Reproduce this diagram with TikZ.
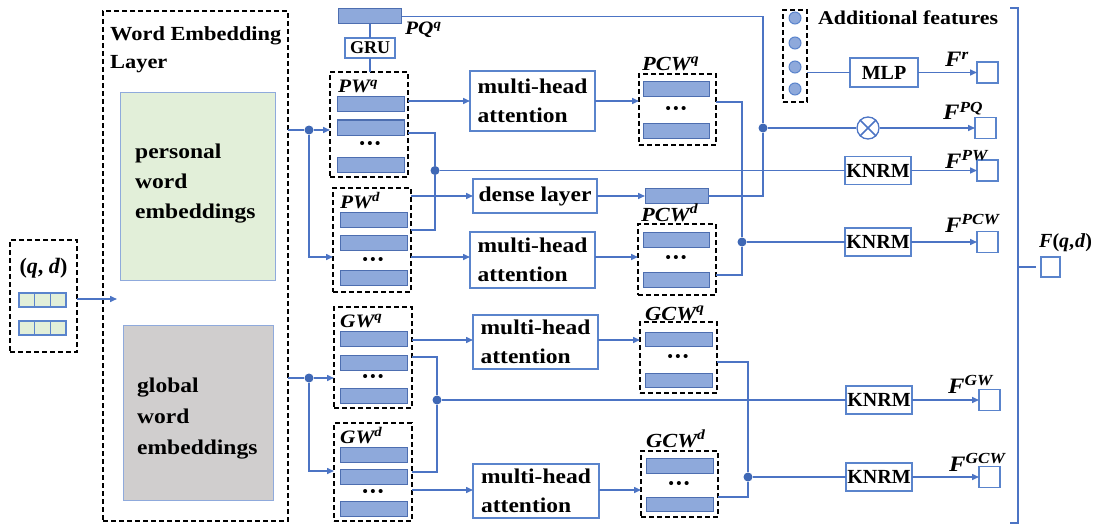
\documentclass[tikz,border=0pt]{standalone}
\usepackage{fontspec}
\setmainfont{Liberation Serif}[FakeStretch=1.12]
\newfontfamily\plainfont{Liberation Serif}
\usetikzlibrary{arrows.meta}
\definecolor{lnc}{HTML}{4C74C4}
\definecolor{barf}{HTML}{8EA9DB}
\definecolor{bard}{HTML}{4D6EB0}
\definecolor{gfill}{HTML}{E2EFD9}
\definecolor{grfill}{HTML}{D0CECE}
\definecolor{embd}{HTML}{8FAADC}
\definecolor{opd}{HTML}{5A84CC}
\definecolor{dotc}{HTML}{3F68B5}
\newcommand{\supl}[2]{\textbf{\textit{#1\textsuperscript{#2}}}}
\newcommand{\tridots}{\textbullet\kern2.5pt\textbullet\kern2.5pt\textbullet}
\tikzset{
 ln/.style={draw=lnc, line width=1.5pt},
 arr/.style={ln, -{Triangle[length=7pt,width=6pt]}},
 dbox/.style={draw=black, line width=1.5pt, dash pattern=on 5pt off 3pt, inner sep=0, outer sep=0, anchor=north west},
 wbar/.style={draw=bard, fill=barf, line width=1pt, inner sep=0, outer sep=0, anchor=north west, minimum width=67pt, minimum height=15pt},
 cell/.style={draw=opd, fill=gfill, line width=1.2pt, inner sep=0, outer sep=0, anchor=north west, minimum width=15.67pt, minimum height=14pt},
 opbox/.style={draw=opd, line width=1.6pt, fill=white, inner sep=2pt, outer sep=0, anchor=north west, align=left, font=\fontsize{21}{29}\selectfont\bfseries},
 knrm/.style={draw=opd, line width=1.6pt, fill=white, inner sep=0, outer sep=0, anchor=north west, minimum width=66pt, minimum height=28pt, font=\plainfont\fontsize{20}{22}\selectfont\bfseries},
 outsq/.style={draw=opd, line width=1.4pt, fill=white, inner sep=0, outer sep=0, anchor=north west, minimum width=21pt, minimum height=21pt},
 jdot/.style={circle, fill=dotc, inner sep=0, minimum size=9pt},
 lbl/.style={inner sep=0, anchor=base west, font=\fontsize{19}{21}\selectfont},
 flbl/.style={inner sep=0, anchor=base west, font=\fontsize{22}{24}\selectfont},
 ellip/.style={inner sep=0, font=\plainfont\fontsize{15}{15}\selectfont\bfseries},
 afc/.style={circle, draw=opd, fill=barf, line width=1pt, inner sep=0, minimum size=12pt},
 txt/.style={inner sep=0, anchor=north west, align=left},
}
\begin{document}
\begin{tikzpicture}[x=1pt,y=-1pt]
\useasboundingbox (0,0) rectangle (1099,524);

% (q,d) input
\node[dbox, minimum width=67pt, minimum height=112pt] (qd) at (10,240) {};
\node[inner sep=0, anchor=base, font=\plainfont\fontsize{22}{24}\selectfont\bfseries] (qdt) at (43.5,273) {(\textit{q}, \textit{d})};
\foreach \i in {0,1,2}{
  \node[cell] (qa\i) at ({19+\i*15.67},293) {};
  \node[cell] (qb\i) at ({19+\i*15.67},321) {};
}
\coordinate (wein) at (117,299);

% word embedding layer
\node[dbox, minimum width=185pt, minimum height=510pt] (web) at (103,11) {};
\node[txt, font=\fontsize{20}{28}\selectfont\bfseries] (webt) at (110,26) {Word Embedding\\Layer};
\node[draw=embd, fill=gfill, line width=1.3pt, anchor=north west, minimum width=155pt, minimum height=188pt, inner sep=0] (pwe) at (120,92) {};
\node[txt, font=\fontsize{21}{30}\selectfont\bfseries] (pwet) at (135,144) {personal\\word\\embeddings};
\node[draw=embd, fill=grfill, line width=1.3pt, anchor=north west, minimum width=150pt, minimum height=175pt, inner sep=0] (gwe) at (123,325) {};
\node[txt, font=\fontsize{21}{31}\selectfont\bfseries] (gwet) at (137,378) {global\\word\\embeddings};

% junctions
\node[jdot] (pj) at (309,130) {};
\node[jdot] (gj) at (309,378) {};
\node[jdot] (j1) at (763,128) {};
\node[jdot] (j2) at (435,170.5) {};
\node[jdot] (j3) at (742,242) {};
\node[jdot] (j4) at (437,400) {};
\node[jdot] (j5) at (748,477) {};

% PQ and GRU
\node[wbar, minimum width=63pt] (pqq) at (338.5,9) {};
\node[lbl] (pqql) at (405,35) {\supl{PQ}{q}};
\node[knrm, minimum width=50pt, minimum height=20pt, font=\plainfont\fontsize{18}{20}\selectfont\bfseries] (gru) at (345,38) {GRU};

% PW^q
\node[dbox, minimum width=78pt, minimum height=105pt] (pwq) at (330,72) {};
\node[lbl] (pwql) at (338,93) {\supl{PW}{q}};
\node[wbar] (pwq1) at (337,97) {};
\node[wbar] (pwq2) at (337,120) {};
\node[ellip] (pwqe) at (370,145) {\tridots};
\node[wbar] (pwq3) at (337,157) {};

% PW^d
\node[dbox, minimum width=78pt, minimum height=104pt] (pwd) at (333,188) {};
\node[lbl] (pwdl) at (340,208) {\supl{PW}{d}};
\node[wbar] (pwd1) at (340,212) {};
\node[wbar] (pwd2) at (340,235) {};
\node[ellip] (pwde) at (373,261) {\tridots};
\node[wbar] (pwd3) at (340,270) {};

% GW^q
\node[dbox, minimum width=78pt, minimum height=101pt] (gwq) at (334,307) {};
\node[lbl] (gwql) at (340,327) {\supl{GW}{q}};
\node[wbar] (gwq1) at (340,331) {};
\node[wbar] (gwq2) at (340,355) {};
\node[ellip] (gwqe) at (373,378) {\tridots};
\node[wbar] (gwq3) at (340,388) {};

% GW^d
\node[dbox, minimum width=78pt, minimum height=98pt] (gwd) at (334,423) {};
\node[lbl] (gwdl) at (340,443) {\supl{GW}{d}};
\node[wbar] (gwd1) at (340,447) {};
\node[wbar] (gwd2) at (340,469) {};
\node[ellip] (gwde) at (373,493) {\tridots};
\node[wbar] (gwd3) at (340,501) {};

% operation boxes
\node[opbox, minimum width=125pt, minimum height=60pt] (mha1) at (470,71) {multi-head\\attention};
\node[opbox, minimum width=124pt, minimum height=34pt] (dense) at (473,179) {dense layer};
\node[opbox, minimum width=125pt, minimum height=56pt] (mha2) at (470,232) {multi-head\\attention};
\node[opbox, minimum width=125pt, minimum height=54pt] (mha3) at (473,315) {multi-head\\attention};
\node[opbox, minimum width=126pt, minimum height=54pt] (mha4) at (473,464) {multi-head\\attention};

% dense output bar
\node[wbar, minimum width=63pt] (dbar) at (645,188.5) {};

% PCW^q
\node[dbox, minimum width=77pt, minimum height=71pt] (pcwq) at (639,74) {};
\node[lbl, font=\fontsize{20}{22}\selectfont] (pcwql) at (642,71) {\supl{PCW}{q}};
\node[wbar, minimum width=66pt] (pcwq1) at (643,82) {};
\node[ellip] (pcwqe) at (676,110) {\tridots};
\node[wbar, minimum width=66pt] (pcwq2) at (643,123) {};

% PCW^d
\node[dbox, minimum width=78pt, minimum height=71pt] (pcwd) at (638,224) {};
\node[lbl, font=\fontsize{20}{22}\selectfont] (pcwdl) at (641,221) {\supl{PCW}{d}};
\node[wbar, minimum width=66pt] (pcwd1) at (643,232) {};
\node[ellip] (pcwde) at (676,259) {\tridots};
\node[wbar, minimum width=66pt] (pcwd2) at (643,272) {};

% GCW^q
\node[dbox, minimum width=77pt, minimum height=71pt] (gcwq) at (640,322) {};
\node[lbl, font=\fontsize{20}{22}\selectfont] (gcwql) at (645,320) {\supl{GCW}{q}};
\node[wbar, minimum width=67pt, minimum height=14pt] (gcwq1) at (645,332) {};
\node[ellip] (gcwqe) at (678,358) {\tridots};
\node[wbar, minimum width=67pt, minimum height=14pt] (gcwq2) at (645,373) {};

% GCW^d
\node[dbox, minimum width=77pt, minimum height=66pt] (gcwd) at (641,451) {};
\node[lbl, font=\fontsize{20}{22}\selectfont] (gcwdl) at (646,447) {\supl{GCW}{d}};
\node[wbar, minimum width=67pt] (gcwd1) at (646,458) {};
\node[ellip] (gcwde) at (679,485) {\tridots};
\node[wbar, minimum width=67pt, minimum height=14pt] (gcwd2) at (646,497) {};

% additional features
\node[dbox, minimum width=24pt, minimum height=92pt] (af) at (783,10) {};
\node[afc] (af1) at (795,18) {};
\node[afc] (af2) at (795,43) {};
\node[afc] (af3) at (795,67) {};
\node[afc] (af4) at (795,89) {};
\node[inner sep=0, anchor=west, font=\fontsize{19.5}{22}\selectfont\bfseries] (aft) at (818,18) {Additional features};
\node[knrm, minimum width=68pt, minimum height=29pt] (mlp) at (850,58) {MLP};

% otimes
\node[circle, draw=lnc, line width=1.3pt, minimum size=22pt, inner sep=0] (ot) at (868,128) {};

% KNRM boxes
\node[knrm] (knrm1) at (845,156.5) {KNRM};
\node[knrm] (knrm2) at (845,228) {KNRM};
\node[knrm] (knrm3) at (846,386) {KNRM};
\node[knrm] (knrm4) at (846,463) {KNRM};

% output squares and labels
\node[outsq] (fr) at (977,62) {};
\node[outsq] (fpq) at (975,117.5) {};
\node[outsq] (fpw) at (977,160) {};
\node[outsq] (fpcw) at (977,231.5) {};
\node[outsq] (fgw) at (979,389.5) {};
\node[outsq] (fgcw) at (979,466.5) {};
\node[outsq, minimum width=19pt, minimum height=20pt] (fqd) at (1041,257) {};
\node[flbl] (frl) at (945,67) {\supl{F}{r}};
\node[flbl] (fpql) at (943,120) {\supl{F}{PQ}};
\node[flbl] (fpwl) at (945,168) {\supl{F}{PW}};
\node[flbl] (fpcwl) at (945,232) {\supl{F}{PCW}};
\node[flbl] (fgwl) at (948,393) {\supl{F}{GW}};
\node[flbl] (fgcwl) at (949,471) {\supl{F}{GCW}};
\node[inner sep=0, anchor=base west, font=\plainfont\fontsize{20}{22}\selectfont\bfseries] (fqdl) at (1039,247) {\textit{F}(\textit{q},\kern1pt\textit{d})};

% ---------- connectors ----------
\draw[arr] (qd.east |- wein) -- (wein);
\draw[ln] (web.east |- pj) -- (pj);
\draw[arr] (pj) -- (pwq.west |- pj);
\draw[arr] (pj) |- (pwd.west |- 0,257);
\draw[ln] (web.east |- gj) -- (gj);
\draw[arr] (gj) -- (gwq.west |- gj);
\draw[arr] (gj) |- (gwd.west |- 0,471);

\draw[ln] (pqq.south -| gru.north) -- (gru.north);
\draw[ln] (gru.south) -- (gru.south |- pwq.north);
\draw[ln] (pqq.east) -| (j1);
\draw[ln] (j1) |- (dbar.east);
\draw[ln] (j1) -- (ot);
\draw[ln] (ot.north east) -- (ot.south west);
\draw[ln] (ot.north west) -- (ot.south east);
\draw[arr] (ot) -- (fpq.west |- ot);

\draw[arr] (pwq.east |- 0,101) -- (mha1.west |- 0,101);
\draw[arr] (mha1.east |- 0,101) -- (pcwq.west |- 0,101);
\draw[ln] (pwq.east |- 0,133) -| (j2);
\draw[ln] (j2) |- (pwd.east |- 0,230);
\draw[ln] (j2) -- (knrm1.west |- j2);
\draw[arr] (knrm1.east) -- (fpw.west);
\draw[arr] (pwd.east |- 0,196) -- (dense.west |- 0,196);
\draw[arr] (dense.east |- dbar) -- (dbar.west);
\draw[arr] (pwd.east |- 0,257) -- (mha2.west |- 0,257);
\draw[arr] (mha2.east |- 0,257) -- (pcwd.west |- 0,257);
\draw[ln] (pcwq.east |- 0,102) -| (j3);
\draw[ln] (j3) |- (pcwd.east |- 0,275);
\draw[ln] (j3) -- (knrm2.west |- j3);
\draw[arr] (knrm2.east) -- (fpcw.west);

\draw[arr] (gwq.east |- 0,340) -- (mha3.west |- 0,340);
\draw[arr] (mha3.east |- 0,340) -- (gcwq.west |- 0,340);
\draw[ln] (gwq.east |- 0,357) -| (j4);
\draw[ln] (j4) |- (gwd.east |- 0,472);
\draw[ln] (j4) -- (knrm3.west |- j4);
\draw[arr] (knrm3.east) -- (fgw.west);
\draw[arr] (gwd.east |- 0,490) -- (mha4.west |- 0,490);
\draw[arr] (mha4.east |- 0,490) -- (gcwd.west |- 0,490);
\draw[ln] (gcwq.east |- 0,362) -| (j5);
\draw[ln] (j5) |- (gcwd.east |- 0,497);
\draw[ln] (j5) -- (knrm4.west |- j5);
\draw[arr] (knrm4.east) -- (fgcw.west);

\draw[ln] (af.east |- mlp) -- (mlp.west);
\draw[arr] (mlp.east) -- (fr.west);

% output bracket
\draw[ln] (1010,8) -- (1018,8) -- (1018,523) -- (1010,523);
\coordinate (brk) at (1018,267);
\coordinate (tk) at (1036,267);
\draw[ln] (brk) -- (tk);
\end{tikzpicture}
\end{document}
